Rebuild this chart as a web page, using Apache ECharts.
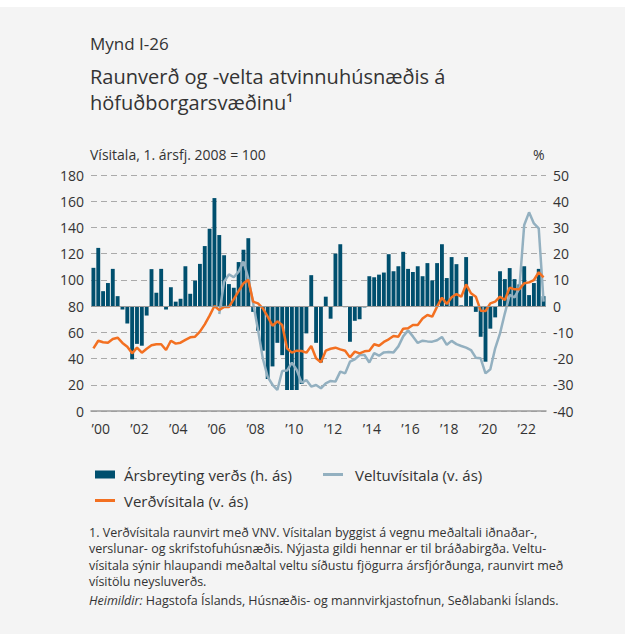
<!DOCTYPE html>
<html>
<head>
<meta charset="utf-8">
<script src="https://cdn.jsdelivr.net/npm/echarts@6/dist/echarts.min.js"></script>
<style>
  html, body { margin: 0; padding: 0; background: #f4f4f4; }
  #topband { position: absolute; left: 0; top: 0; width: 625px; height: 7px; background: #fff; z-index: 2; }
  #chart { position: absolute; left: 0; top: 0; width: 625px; height: 634px; }
</style>
</head>
<body>
<div id="topband"></div>
<div id="chart"></div>
<script>
'use strict';
// quarterly data, 1. ársfj. 2000 - 2. ársfj. 2023
const years = [2000, 2001, 2002, 2003, 2004, 2005, 2006, 2007, 2008, 2009, 2010, 2011,
  2012, 2013, 2014, 2015, 2016, 2017, 2018, 2019, 2020, 2021, 2022, 2023];
const lastQuarter = 2; // 2023 ends at Q2

let quarters = [];
years.forEach(function (y) {
  for (let q = 1; q <= 4; q++) {
    if (y === 2023 && q > lastQuarter) break;
    quarters.push(y + 'K' + q);
  }
});

// Árbreyting verðs (%), right axis
const priceChange = [
  14.6, 22.2, 5.7, 8.8, 14.2, 3.8, -1.3, -6.6, -20.3, -14.4, -15.1, -3.6,
  14.1, 5.1, 14.2, -1.3, 7.2, 1.7, 2.8, 15.2, 4.7, 9.7, 16.1, 22.9,
  29.5, 41.2, 27.1, 19.4, 8.4, 7.0, 16.8, 21.5, 25.9, -2.2, -9.4, -17,
  -27.8, -23, -14, -18.7, -32, -32, -32, -29.7, -10.4, 11.8, -14, -21.5,
  3.6, -4.8, 20, 23.6, -0.4, -13.6, -5.6, -5, -0.5, 11.4, 11, 12,
  12.8, 19.8, 13.3, 15.2, 20.7, 14.2, 13, 15.2, 11.4, 16.4, 9.8, 16.4,
  23.6, 10.7, 18.7, 16, 0.3, 18.7, 3.8, -2.2, -11.7, -21.2, -8.6, -4.3,
  13.3, 10.3, 14.5, 10.3, 8.3, 15.2, 4.2, 8.8, 14.2, 3.8
];

// Verðvísitala, left axis
const priceIndex = [
  47.8, 53.6, 52.4, 52, 54.9, 55.9, 51.9, 49, 44, 48.3, 44.5, 47.5,
  50.1, 50.9, 50.9, 46.5, 53.6, 51.4, 52.1, 54.2, 56.2, 56.7, 60.5, 66.1,
  72.7, 80.1, 77, 79.3, 79.3, 85.4, 91.5, 97.4, 100, 83.4, 82.1, 78.3,
  72, 65, 68.4, 65.6, 47.8, 44.5, 46, 45.8, 44.5, 49.6, 40.2, 37.1,
  46, 47.5, 48.3, 47, 46, 40.9, 45.3, 44, 45.5, 46, 50.9, 49.8,
  52.7, 54.7, 57.2, 56.7, 62.8, 63.1, 65.6, 65.6, 70.5, 73.2, 72, 79.6,
  86.4, 81.6, 86.7, 89.2, 87.2, 96.6, 89.8, 87.2, 76.5, 76.3, 82.1, 83.4,
  87.2, 84.7, 94.1, 92.8, 92.8, 97.4, 98.1, 99.9, 105.8, 102
];

// Veltuvísitala, left axis (starts 3. ársfj. 2006)
const turnoverIndex = [
  null, null, null, null, null, null, null, null, null, null, null, null,
  null, null, null, null, null, null, null, null, null, null, null, null,
  null, null, 74, 98.7, 104.2, 102, 106.3, 113.9, 101.2, 82.1, 62, 40,
  26, 20, 16, 30.5, 30.8, 36.9, 31.3, 21.6, 23.6, 18.6, 19.8, 17.3,
  21.1, 22.9, 22.4, 30, 28.7, 37.6, 39.4, 42.7, 42.7, 37, 44.2, 42.2,
  44.7, 45, 44.7, 49.3, 56.9, 61.5, 56.9, 51.9, 53.6, 53.1, 52.9, 54,
  56.5, 50.5, 53.5, 51, 49.6, 48.3, 46.5, 40.7, 40.2, 28.7, 31.8, 47.8,
  59.2, 74.5, 88.5, 86.7, 93.6, 141.9, 151.5, 143.1, 139.3, 83.4
];

const seriesNames = ['Ársbreyting verðs (h. ás)', 'Veltuvísitala (v. ás)', 'Verðvísitala (v. ás)'];

const FONT = '"Open Sans", "Noto Sans", sans-serif';
const TXT = '#333333';

var dom = document.getElementById('chart');
var myChart = echarts.init(dom, null, { renderer: 'svg' });

var option = {
  animation: false,
  textStyle: { fontFamily: FONT, color: TXT },
  grid: { left: 91, right: 79, top: 175, bottom: 223 },
  legend: [
    {
      data: [seriesNames[0]], left: 90, top: 462, icon: 'rect',
      itemWidth: 20, itemHeight: 8,
      textStyle: { fontSize: 15, color: TXT, padding: [0, 0, 0, 4] }
    },
    {
      data: [seriesNames[1]], left: 318, top: 462, icon: 'rect',
      itemWidth: 20, itemHeight: 3,
      textStyle: { fontSize: 15, color: TXT, padding: [0, 0, 0, 7] }
    },
    {
      data: [seriesNames[2]], left: 90, top: 488, icon: 'rect',
      itemWidth: 20, itemHeight: 3,
      textStyle: { fontSize: 15, color: TXT, padding: [0, 0, 0, 4] }
    }
  ],
  xAxis: {
    type: 'category',
    data: quarters,
    boundaryGap: true,
    axisLine: { lineStyle: { color: '#9a9a9a', width: 1.5 } },
    axisTick: {
      length: 5,
      lineStyle: { color: '#9a9a9a' },
      interval: function (idx) { return idx % 4 === 0; }
    },
    axisLabel: {
      fontSize: 14, color: TXT, margin: 10,
      padding: [0, 0, 0, 5],
      interval: function (idx) { return idx % 8 === 1; },
      formatter: function (val) { return '\u2019' + val.substring(2, 4); }
    },
    splitLine: { show: false }
  },
  yAxis: [
    {
      type: 'value', min: 0, max: 180, interval: 20,
      axisLine: { show: false }, axisTick: { show: false },
      axisLabel: { fontSize: 14, color: TXT, margin: 7 },
      splitLine: { lineStyle: { color: '#aaaaaa', type: [6, 4], width: 1 } }
    },
    {
      type: 'value', min: -40, max: 50, interval: 10, position: 'right',
      axisLine: { show: false }, axisTick: { show: false },
      axisLabel: { fontSize: 14, color: TXT, margin: 7 },
      splitLine: { show: false }
    }
  ],
  series: [
    {
      name: seriesNames[0],
      type: 'bar',
      yAxisIndex: 1,
      data: priceChange,
      barCategoryGap: '20%',
      itemStyle: { color: '#004f6e' },
      markLine: {
        silent: true, symbol: 'none', label: { show: false },
        lineStyle: { color: '#9a9a9a', type: 'solid', width: 1 },
        data: [{ yAxis: 0 }]
      }
    },
    {
      name: seriesNames[1],
      type: 'line',
      yAxisIndex: 0,
      data: turnoverIndex,
      showSymbol: false,
      itemStyle: { color: '#93b0c0' },
      lineStyle: { color: '#93b0c0', width: 2.5 }
    },
    {
      name: seriesNames[2],
      type: 'line',
      yAxisIndex: 0,
      data: priceIndex,
      showSymbol: false,
      itemStyle: { color: '#f37021' },
      lineStyle: { color: '#f37021', width: 2.5 }
    }
  ],
  graphic: [
    { type: 'text', left: 90, top: 35, style: { text: 'Mynd I-26', fontSize: 17, fontFamily: FONT, fill: TXT } },
    {
      type: 'text', left: 90, top: 63,
      style: { text: 'Raunverð og -velta atvinnuhúsnæðis á\nhöfuðborgarsvæðinu\u00b9', fontSize: 20, lineHeight: 26, fontFamily: FONT, fill: TXT }
    },
    { type: 'text', left: 90, top: 147, style: { text: 'Vísitala, 1. ársfj. 2008 = 100', fontSize: 14, fontFamily: FONT, fill: TXT } },
    { type: 'text', left: 533, top: 147, style: { text: '%', fontSize: 14, fontFamily: FONT, fill: TXT } },
    {
      type: 'text', left: 89, top: 524,
      style: {
        text: '1. Verðvísitala raunvirt með VNV. Vísitalan byggist á vegnu meðaltali iðnaðar-,\n' +
          'verslunar- og skrifstofuhúsnæðis. Nýjasta gildi hennar er til bráðabirgða. Veltu-\n' +
          'vísitala sýnir hlaupandi meðaltal veltu síðustu fjögurra ársfjórðunga, raunvirt með\n' +
          'vísitölu neysluverðs.',
        fontSize: 12.5, lineHeight: 16.5, fontFamily: FONT, fill: TXT
      }
    },
    {
      type: 'text', left: 89, top: 594,
      style: {
        text: '{i|Heimildir:} Hagstofa Íslands, Húsnæðis- og mannvirkjastofnun, Seðlabanki Íslands.',
        fontSize: 12.5, fontFamily: FONT, fill: TXT,
        rich: { i: { fontStyle: 'italic', fontSize: 12.5, fontFamily: FONT, fill: TXT } }
      }
    }
  ]
};

if (option && typeof option === 'object') {
  myChart.setOption(option, true);
}
</script>
</body>
</html>
